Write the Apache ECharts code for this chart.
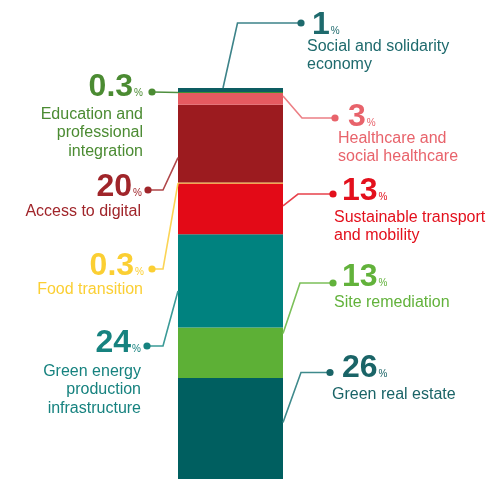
<!DOCTYPE html>
<html><head><meta charset="utf-8">
<script src="https://cdn.jsdelivr.net/npm/echarts@6/dist/echarts.min.js"></script>
<style>html,body{margin:0;padding:0;background:#fff}#c{width:487px;height:479px}</style>
</head><body><div id="c"></div><script>
// ---- data (bottom to top of the stacked bar) ----
const categories = ['Green real estate','Site remediation','Green energy production infrastructure','Sustainable transport and mobility','Food transition','Access to digital','Healthcare and social healthcare','Education and professional integration','Social and solidarity economy'];
const values = [26, 13, 24, 13, 0.3, 20, 3, 0.3, 1];
const valueLabels = ['26','13','24','13','0.3','20','3','0.3','1'];
const descLines = [
  ['Green real estate'],
  ['Site remediation'],
  ['Green energy','production','infrastructure'],
  ['Sustainable transport','and mobility'],
  ['Food transition'],
  ['Access to digital'],
  ['Healthcare and','social healthcare'],
  ['Education and','professional','integration'],
  ['Social and solidarity','economy']
];

// ---- style ----
const barColors = ['#005f60','#5db036','#00827f','#e30a17','#f7c520','#9c1b1f','#e55a60','#3f8f34','#0d5c61'];
const textColors = ['#1a6467','#62b23b','#16827f','#e3101c','#fbcf33','#a0252a','#e8636b','#4b8b32','#1e6a6d'];
const lineColors = ['#3f8a8c','#7cc05a','#3a9a97','#e8414b','#fbd455','#b0474a','#ec7f85','#4f8f3f','#3d8389'];

// ---- layout (label placement) ----
const side   = ['R','R','L','R','L','L','R','L','R'];
const dots   = [[330,372.5],[333,283],[147,346],[333,194],[152,269],[148,190],[335,118],[152,92],[301,23]];
const elbows = [301,300,163,298,163,163,302,null,237.5];
const fracs  = [0.56,0.88,0.39,0.56,0.5,0.32,0.75,0.5,1];
const anchorX= [null,null,null,null,null,null,null,null,45];
const valPos = [[342,368],[342,277],[141,343],[342,191],[144,266],[142,187],[348,117],[143,87],[312,25]];
const descPos= [[332,394.5],[334,302.5],[141,371.5],[334,217.5],[143,289.5],[141,211.5],[338,138.5],[143,114.5],[307,46.5]];

const total = values.reduce((a,b)=>a+b,0);
const chart = echarts.init(document.getElementById('c'), null, {renderer:'canvas'});
chart.setOption({
  animation:false,
  grid:{left:178, top:88, width:105, height:395, containLabel:false},
  xAxis:{type:'category', data:['all'], show:false},
  yAxis:{type:'value', min:0, max:total, show:false, splitLine:{show:false}},
  series: values.map((v,i)=>({
    name: categories[i], type:'bar', stack:'s', data:[v], barWidth:'100%', silent:true,
    itemStyle:{color:barColors[i]}
  }))
});

const FONT = 'Liberation Sans, Arial, sans-serif';
const center = chart.convertToPixel({gridIndex:0},[0,0]);
const halfW = 52.5;
const barL = center[0]-halfW, barR = center[0]+halfW;
const elements = [];
let cum = 0;
values.forEach((v,i)=>{
  const ay = chart.convertToPixel({gridIndex:0},[0, cum + fracs[i]*v])[1];
  cum += v;
  let ax = side[i]==='L' ? barL : barR;
  if (anchorX[i] !== null) ax = barL + anchorX[i];
  const d = dots[i];
  const pts = elbows[i]===null ? [[d[0],d[1]],[ax,ay]] : [[d[0],d[1]],[elbows[i],d[1]],[ax,ay]];
  elements.push({type:'polyline', shape:{points:pts}, style:{stroke:lineColors[i], lineWidth:1.6, fill:null}, z:10});
  elements.push({type:'circle', shape:{cx:d[0], cy:d[1], r:3.6}, style:{fill:textColors[i]}, z:11});
  const al = side[i]==='L' ? 'right' : 'left';
  elements.push({type:'text', z:12, style:{
    text:'{v|'+valueLabels[i]+'}{p|%}', x:valPos[i][0], y:valPos[i][1],
    align:al, textAlign:al, verticalAlign:'middle', textVerticalAlign:'middle',
    rich:{
      v:{fontSize:32, fontWeight:'bold', fontFamily:FONT, fill:textColors[i], color:textColors[i], verticalAlign:'bottom', lineHeight:32},
      p:{fontSize:10, fontFamily:FONT, fill:textColors[i], color:textColors[i], verticalAlign:'bottom', padding:[0,0,5,1], lineHeight:12}
    }
  }});
  const lh = 18.5;
  elements.push({type:'text', z:12, style:{
    text:descLines[i].join('\n'), x:descPos[i][0], y:descPos[i][1]-lh/2,
    align:al, textAlign:al, verticalAlign:'top', textVerticalAlign:'top',
    fontSize:16, fontFamily:FONT, fill:textColors[i], lineHeight:lh
  }});
});
chart.setOption({graphic:{elements}});
</script></body></html>
